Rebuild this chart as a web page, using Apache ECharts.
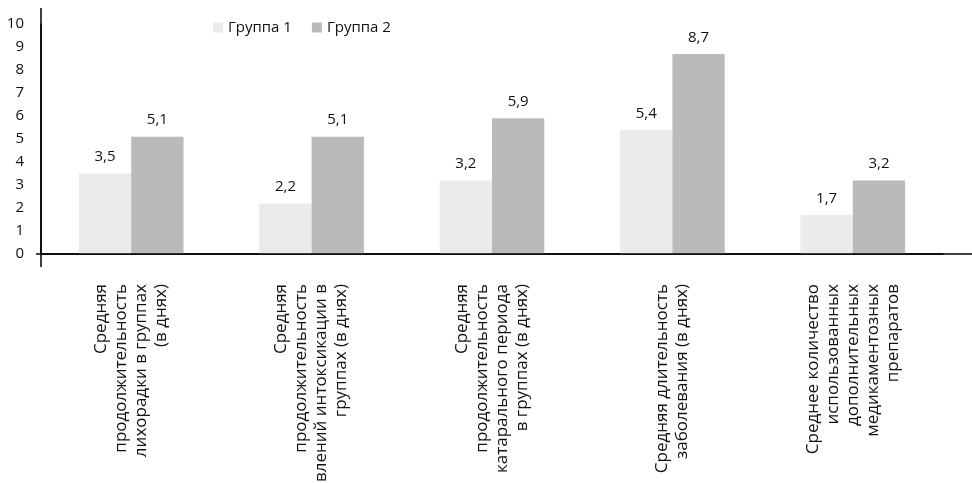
<!DOCTYPE html>
<html>
<head>
<meta charset="utf-8">
<script src="https://cdn.jsdelivr.net/npm/echarts@6/dist/echarts.min.js"></script>
<style>
  html, body { margin: 0; padding: 0; background: #fff; }
  #chart { width: 972px; height: 483px; }
</style>
</head>
<body>
<div id="chart"></div>
<script>
// данные
const categories = [
    'Средняя\nпродолжительность\nлихорадки в группах\n(в днях)',
    'Средняя\nпродолжительность\nявлений интоксикации в\nгруппах (в днях)',
    'Средняя\nпродолжительность\nкатарального периода\nв группах (в днях)',
    'Средняя длительность\nзаболевания (в днях)',
    'Среднее количество\nиспользованных\nдополнительных\nмедикаментозных\nпрепаратов'
]
const group1 = [3.5, 2.2, 3.2, 5.4, 1.7]
const group2 = [5.1, 5.1, 5.9, 8.7, 3.2]
const seriesNames = ['Группа 1', 'Группа 2']

const font = '"Open Sans", "Noto Sans", sans-serif'
const comma = (p) => String(p.value).replace('.', ',')

// область графика
const W = 972, H = 483
const gridLeft = 41, gridRight = 29, gridTop = 24, gridBottom = 229

const chart = echarts.init(document.getElementById('chart'))

chart.setOption({
    animation: false,
    textStyle: { fontFamily: font },
    grid: {
        left: gridLeft,
        right: gridRight,
        top: gridTop,
        bottom: gridBottom,
        containLabel: false,
        outerBoundsMode: 'none'
    },
    legend: {
        data: seriesNames,
        top: 15,
        left: 208,
        itemWidth: 10,
        itemHeight: 10,
        itemGap: 20,
        icon: 'rect',
        textStyle: { fontSize: 15, color: '#111', fontFamily: font }
    },
    xAxis: {
        type: 'category',
        data: categories,
        axisTick: { show: false },
        axisLine: { show: true, lineStyle: { color: '#000', width: 1.5 } },
        axisLabel: {
            interval: 0,
            rotate: 90,
            margin: 30,
            fontSize: 17,
            lineHeight: 20,
            color: '#111',
            fontFamily: font
        }
    },
    yAxis: {
        type: 'value',
        min: 0,
        max: 10,
        interval: 1,
        splitLine: { show: false },
        axisTick: { show: false },
        axisLine: { show: true, lineStyle: { color: '#000', width: 1.5 } },
        axisLabel: {
            margin: 17,
            fontSize: 15,
            color: '#111',
            fontFamily: font
        }
    },
    series: [
        {
            name: seriesNames[0],
            type: 'bar',
            data: group1,
            barGap: '0%',
            barCategoryGap: '42%',
            itemStyle: { color: '#ebebeb' },
            label: { show: true, position: 'top', distance: 9, fontSize: 15, color: '#111', formatter: comma }
        },
        {
            name: seriesNames[1],
            type: 'bar',
            data: group2,
            barGap: '0%',
            barCategoryGap: '42%',
            itemStyle: { color: '#bababa' },
            label: { show: true, position: 'top', distance: 9, fontSize: 15, color: '#111', formatter: comma }
        }
    ],
    // оси в оригинале выходят за область графика
    graphic: [
        {
            type: 'line', silent: true, z: 10,
            shape: { x1: gridLeft - 5, y1: H - gridBottom, x2: W, y2: H - gridBottom },
            style: { stroke: '#000', lineWidth: 1.5 }
        },
        {
            type: 'line', silent: true, z: 10,
            shape: { x1: gridLeft, y1: gridTop - 16, x2: gridLeft, y2: H - gridBottom + 13 },
            style: { stroke: '#000', lineWidth: 1.5 }
        }
    ]
})
</script>
</body>
</html>
